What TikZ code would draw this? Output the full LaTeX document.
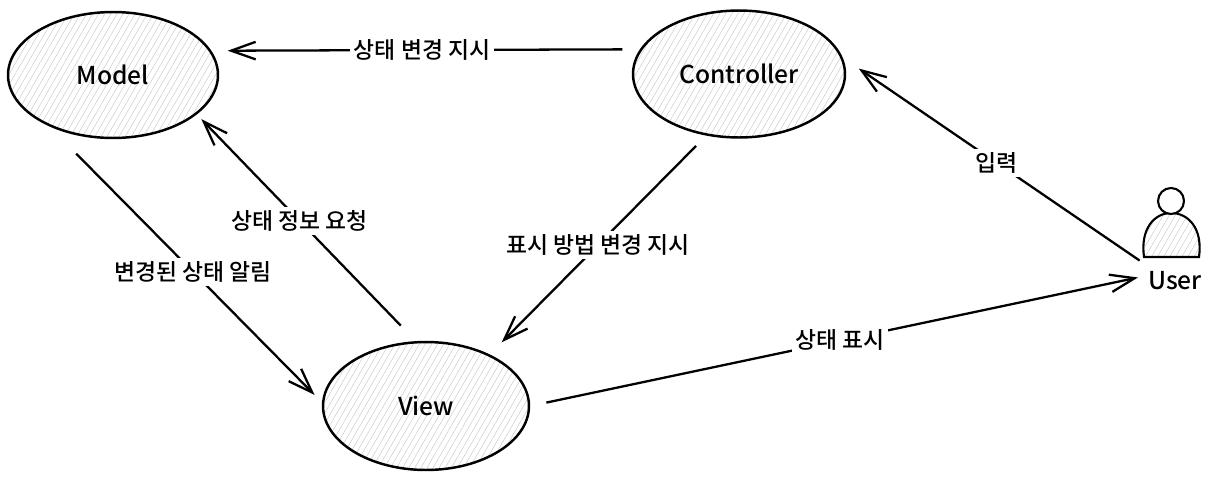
\documentclass[tikz,border=0pt]{standalone}
\usepackage{fontspec}
\setmainfont{Noto Sans CJK KR}[UprightFont=* Medium]
\usetikzlibrary{arrows.meta, positioning, shapes.geometric, patterns.meta}

\begin{document}
\begin{tikzpicture}[x=0.02cm, y=-0.02cm,
    part/.style={draw, ellipse, line width=1.4pt, inner sep=0pt,
      pattern={Lines[angle=60,distance=3pt,line width=0.3pt]}, pattern color=black!20,
      font=\fontsize{14}{16}\selectfont},
    flow/.style={-{Straight Barb[length=14pt,width=10pt]}, line width=1.3pt},
    tag/.style={fill=white, inner sep=2pt, font=\fontsize{13}{15}\selectfont}]
    \useasboundingbox (0,0) rectangle (1212,480);

    % MVC parts
    \node[part, minimum width=4.2cm, minimum height=2.52cm] (model) at (113,75) {Model};
    \node[part, minimum width=4.24cm, minimum height=2.54cm] (controller) at (739,74) {Controller};
    \node[part, minimum width=4.12cm, minimum height=2.56cm] (view) at (426,406) {View};

    % User icon
    \draw[line width=1.2pt, pattern={Lines[angle=60,distance=3pt,line width=0.3pt]}, pattern color=black!20]
        (1144,257) .. controls (1140,228) and (1155,213) .. (1171,213)
        .. controls (1188,213) and (1203,228) .. (1199,257) -- cycle;
    \draw[line width=1.2pt, fill=white] (1171,201) circle[radius=13];
    \node[font=\fontsize{14}{16}\selectfont, inner sep=2pt] (user) at (1175,281) {User};

    % Connectors
    \draw[flow, shorten <=0.35cm, shorten >=0.35cm] (controller.166.6) -- node[tag, pos=0.507] {상태 변경 지시} (model.14.2);
    \draw[flow, shorten <=0.82cm, shorten >=0.21cm] (model.217.8) -- node[tag, pos=0.53] {변경된 상태 알림} (view.178.1);
    \draw[flow, shorten <=0.43cm, shorten >=0.15cm] (view.99.8) -- node[tag, pos=0.53] {상태 정보 요청} (model.-25.8);
    \draw[flow, shorten <=0.29cm, shorten >=0.34cm] (controller.242.5) -- node[tag, pos=0.5] {표시 방법 변경 지시} (view.39.4);
    \draw[flow, shorten <=0.26cm, shorten >=0.39cm] (user.152.2) -- node[tag, pos=0.5] {입력} (controller.9.1);
    \draw[flow, shorten <=0.33cm, shorten >=0.13cm] (view.0) -- node[tag, pos=0.505] {상태 표시} (user.171.8);
\end{tikzpicture}
\end{document}
